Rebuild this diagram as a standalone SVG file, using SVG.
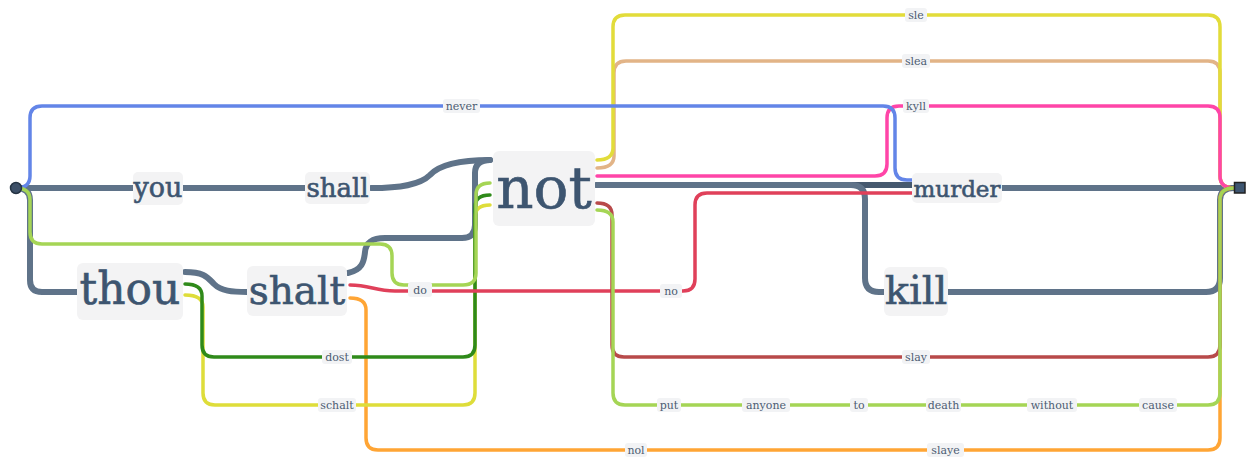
<svg xmlns="http://www.w3.org/2000/svg" width="1246" height="458" viewBox="0 0 1246 458">
<style>
.c{fill:none;stroke-linecap:round;stroke-linejoin:round}
.m{stroke:#5f7389;stroke-width:6}
.md{stroke:#46596f;stroke-width:6}
.t{stroke-width:3.5}
.box{fill:#f3f3f4}
.big{font-family:"DejaVu Serif","Liberation Serif",serif;fill:#3d5570;stroke:#3d5570;stroke-width:0.6;text-anchor:middle}
.sm{font-family:"DejaVu Serif","Liberation Serif",serif;fill:#4d5d73;text-anchor:middle;font-size:11px}
.sb{fill:#f2f3f5}
</style>
<rect width="1246" height="458" fill="#fff"/>
<g id="connectors">
<path class="c m" d="M16,188 H133"/>
<path class="c m" d="M183,188 H305"/>
<path class="c m" d="M371,188 C400,188 420,185 430,175 C440,164 460,160 490,160"/>
<path class="c m" d="M16,188 Q30,188 30,200 V280 Q30,292 42,292 H77"/>
<path class="c m" d="M185,272 C205,272 208,278 214,284 C221,291 232,292 247,292"/>
<path class="c m" d="M348,273 C362,270 364,262 365,252 C366,242 372,238 385,238 H462 Q475,238 475,225 V173 Q475,160 490,160"/>
<path class="c md" d="M597,185 H912"/>
<path class="c m" d="M597,185 H851 Q865,185 865,199 V278 Q865,292 879,292 H884"/>
<path class="c m" d="M1002,188 H1234"/>
<path class="c m" d="M948,292 H1206 Q1220,292 1220,278 V200 Q1220,188 1234,188"/>
<path class="c t" stroke="#e2b487" d="M597,168 Q614,168 614,156 V73 Q614,61 626,61 H1208 Q1220,61 1220,73 V176 Q1220,188 1234,188"/>
<path class="c t" stroke="#e2dc3a" d="M597,160 Q613,160 613,148 V27 Q613,15 625,15 H1208 Q1220,15 1220,27 V176 Q1220,188 1234,188"/>
<path class="c t" stroke="#ff45a8" d="M597,176 H875 Q887,176 887,164 V118 Q887,106 899,106 H1208 Q1220,106 1220,118 V176 Q1220,188 1234,188"/>
<path class="c t" stroke="#6385e8" d="M16,188 Q30,188 30,176 V118 Q30,106 42,106 H883 Q895,106 895,118 V168 Q895,180 907,180 H912"/>
<path class="c t" stroke="#ffa535" d="M350,298 Q366,298 366,310 V438 Q366,450 378,450 H1208 Q1220,450 1220,438 V200 Q1220,188 1234,188"/>
<path class="c t" stroke="#dedd3a" d="M185,295 Q203,295 203,307 V393 Q203,405 215,405 H463 Q475,405 475,393 V217 Q475,205 490,205"/>
<path class="c t" stroke="#2f8a1a" d="M185,284 Q202,284 202,296 V345 Q202,357 214,357 H463 Q475,357 475,345 V207 Q475,195 490,195"/>
<path class="c t" stroke="#a5d555" d="M16,188 Q30,188 30,200 V232 Q30,244 42,244 H380 Q392,244 392,256 V273 Q392,285 404,285 H463 Q476,285 476,273 V195 Q476,183 490,183"/>
<path class="c t" stroke="#e0405a" d="M350,285 C370,285 375,291 395,291 H683 Q695,291 695,279 V205 Q695,193 707,193 H912"/>
<path class="c t" stroke="#b84a4a" d="M597,203 Q612,203 612,215 V345 Q612,357 624,357 H1208 Q1220,357 1220,345 V200 Q1220,188 1234,188"/>
<path class="c t" stroke="#a5d555" d="M597,210 Q613,210 613,222 V393 Q613,405 625,405 H1208 Q1220,405 1220,393 V200 Q1220,188 1234,188"/>
</g>
<g id="start"><circle cx="16" cy="188" r="5.5" fill="#3d5068" stroke="#253444" stroke-width="1.5"/></g>
<g id="end"><rect x="1234.5" y="182.5" width="10.5" height="10.5" fill="#3d5570" stroke="#222" stroke-width="1.5"/></g>
<g id="n-you"><rect class="box" x="133" y="172" width="50" height="33" rx="5"/><text class="big" x="158" y="197" font-size="27">you</text></g>
<g id="n-shall"><rect class="box" x="305" y="172" width="65" height="32" rx="5"/><text class="big" x="337.5" y="197" font-size="26">shall</text></g>
<g id="n-not"><rect class="box" x="493" y="151" width="102" height="75" rx="6"/><text class="big" x="544" y="208" font-size="58">not</text></g>
<g id="n-thou"><rect class="box" x="77" y="263" width="106" height="57" rx="6"/><text class="big" x="130" y="304" font-size="44">thou</text></g>
<g id="n-shalt"><rect class="box" x="247" y="266" width="100" height="50" rx="6"/><text class="big" x="297" y="304" font-size="39">shalt</text></g>
<g id="n-murder"><rect class="box" x="912" y="173" width="90" height="30" rx="5"/><text class="big" x="957" y="197" font-size="23">murder</text></g>
<g id="n-kill"><rect class="box" x="884" y="267" width="64" height="49" rx="6"/><text class="big" x="916" y="304" font-size="40">kill</text></g>
<g id="n-never"><rect class="sb" x="443" y="99" width="37" height="14" rx="3"/><text class="sm" x="461.5" y="110">never</text></g>
<g id="n-sle"><rect class="sb" x="905" y="8" width="22" height="14" rx="3"/><text class="sm" x="916" y="19">sle</text></g>
<g id="n-slea"><rect class="sb" x="902" y="54" width="28" height="14" rx="3"/><text class="sm" x="916" y="65">slea</text></g>
<g id="n-kyll"><rect class="sb" x="903" y="99" width="26" height="14" rx="3"/><text class="sm" x="916" y="110">kyll</text></g>
<g id="n-do"><rect class="sb" x="408" y="282" width="24" height="15" rx="3"/><text class="sm" x="420" y="294">do</text></g>
<g id="n-no"><rect class="sb" x="660" y="284" width="22" height="14" rx="3"/><text class="sm" x="671" y="295">no</text></g>
<g id="n-dost"><rect class="sb" x="322" y="350" width="30" height="14" rx="3"/><text class="sm" x="337" y="361">dost</text></g>
<g id="n-schalt"><rect class="sb" x="318" y="398" width="38" height="14" rx="3"/><text class="sm" x="337" y="409">schalt</text></g>
<g id="n-slay"><rect class="sb" x="902" y="350" width="28" height="14" rx="3"/><text class="sm" x="916" y="361">slay</text></g>
<g id="n-put"><rect class="sb" x="657" y="398" width="24" height="14" rx="3"/><text class="sm" x="669" y="409">put</text></g>
<g id="n-anyone"><rect class="sb" x="742" y="398" width="48" height="14" rx="3"/><text class="sm" x="766" y="409">anyone</text></g>
<g id="n-to"><rect class="sb" x="850" y="398" width="18" height="14" rx="3"/><text class="sm" x="859" y="409">to</text></g>
<g id="n-death"><rect class="sb" x="926" y="398" width="35" height="14" rx="3"/><text class="sm" x="943.5" y="409">death</text></g>
<g id="n-without"><rect class="sb" x="1027" y="398" width="50" height="14" rx="3"/><text class="sm" x="1052" y="409">without</text></g>
<g id="n-cause"><rect class="sb" x="1139" y="398" width="38" height="14" rx="3"/><text class="sm" x="1158" y="409">cause</text></g>
<g id="n-nol"><rect class="sb" x="625" y="443" width="22" height="14" rx="3"/><text class="sm" x="636" y="454">nol</text></g>
<g id="n-slaye"><rect class="sb" x="927" y="443" width="37" height="14" rx="3"/><text class="sm" x="945.5" y="454">slaye</text></g>
</svg>
